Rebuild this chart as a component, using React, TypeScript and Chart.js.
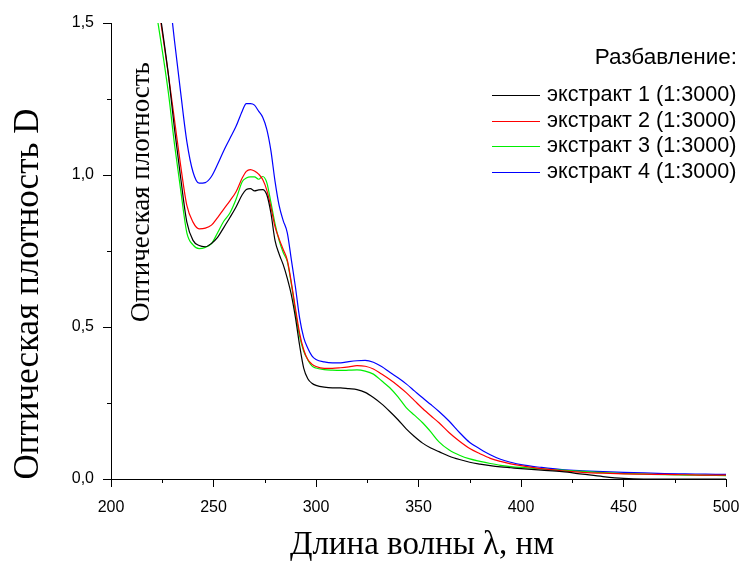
import React, { useEffect, useRef } from "react";
import { Chart, registerables } from "chart.js";

Chart.register(...registerables);

// Wavelength grid, nm
const wavelengths = [
  222, 225, 228, 231, 234, 237, 240, 243, 246, 249,
  252, 255, 258, 261, 264, 266, 268, 270, 272, 274,
  276, 278, 280, 282, 284, 286, 288, 290, 292, 294,
  296, 298, 300, 304, 308, 312, 316, 320, 324, 328,
  332, 336, 340, 344, 348, 352, 356, 360, 365, 370,
  375, 380, 385, 390, 395, 400, 410, 420, 430, 440,
  450, 460, 470, 480, 490, 500,
];

const extract1 = [
  1.62, 1.48, 1.33, 1.15, 0.99, 0.845, 0.785, 0.768, 0.764, 0.775,
  0.795, 0.827, 0.86, 0.895, 0.935, 0.952, 0.955, 0.948, 0.951, 0.952,
  0.935, 0.875, 0.785, 0.74, 0.705, 0.66, 0.605, 0.53, 0.44, 0.365,
  0.33, 0.315, 0.308, 0.302, 0.3, 0.3, 0.297, 0.294, 0.285, 0.268,
  0.247, 0.222, 0.195, 0.165, 0.14, 0.118, 0.102, 0.09, 0.075, 0.064,
  0.055, 0.049, 0.044, 0.04, 0.037, 0.034, 0.029, 0.024, 0.016, 0.008,
  0.002, 0, 0, 0, 0, 0,
];

const extract2 = [
  1.61, 1.47, 1.33, 1.18, 1.03, 0.9, 0.845, 0.823, 0.825, 0.835,
  0.86, 0.888, 0.915, 0.945, 0.99, 1.012, 1.018, 1.013, 1.003, 0.985,
  0.95, 0.895, 0.83, 0.79, 0.755, 0.72, 0.645, 0.56, 0.48, 0.425,
  0.393, 0.378, 0.37, 0.364, 0.364, 0.366, 0.369, 0.373, 0.371, 0.362,
  0.345, 0.327, 0.307, 0.284, 0.258, 0.232, 0.208, 0.185, 0.152, 0.124,
  0.1, 0.083, 0.068, 0.058, 0.05, 0.044, 0.034, 0.027, 0.022, 0.019,
  0.017, 0.016, 0.015, 0.014, 0.013, 0.013,
];

const extract3 = [
  1.54, 1.41, 1.27, 1.1, 0.95, 0.81, 0.77, 0.758, 0.762, 0.774,
  0.81, 0.848, 0.875, 0.92, 0.978, 0.99, 0.994, 0.994, 0.986, 0.995,
  0.975, 0.91, 0.84, 0.785, 0.745, 0.715, 0.64, 0.55, 0.47, 0.42,
  0.392, 0.372, 0.365, 0.36, 0.358, 0.357, 0.358, 0.359, 0.355, 0.345,
  0.323, 0.3, 0.27, 0.235, 0.21, 0.185, 0.155, 0.122, 0.095, 0.078,
  0.066, 0.058, 0.051, 0.045, 0.041, 0.038, 0.033, 0.029, 0.025, 0.021,
  0.018, 0.016, 0.014, 0.013, 0.012, 0.011,
];

const extract4 = [
  1.95, 1.79, 1.62, 1.44, 1.27, 1.11, 1.01, 0.973, 0.975, 0.995,
  1.035, 1.08, 1.12, 1.16, 1.21, 1.235, 1.235, 1.23, 1.21, 1.19,
  1.15, 1.08, 0.98, 0.9, 0.85, 0.81, 0.72, 0.63, 0.53, 0.465,
  0.43, 0.405, 0.393, 0.385, 0.382, 0.382, 0.386, 0.389, 0.39, 0.384,
  0.37, 0.351, 0.333, 0.313, 0.29, 0.267, 0.245, 0.222, 0.19, 0.153,
  0.12, 0.099, 0.08, 0.065, 0.055, 0.047, 0.038, 0.031, 0.027, 0.024,
  0.022, 0.02, 0.018, 0.017, 0.016, 0.015,
];

const seriesLabels = [
  "экстракт 1 (1:3000)",
  "экстракт 2 (1:3000)",
  "экстракт 3 (1:3000)",
  "экстракт 4 (1:3000)",
];
const seriesColors = ["#000000", "#ff0000", "#00ee00", "#0000ff"];
const legendTitle = "Разбавление:";
const xTitle = "Длина волны λ, нм";
const yTitle = "Оптическая плотность D";
const innerTitle = "Оптическая плотность";
const xMinorTicks = [225, 275, 325, 375, 425, 475];
const yMinorTicks = [0.25, 0.75, 1.25];

const decorPlugin = {
  id: "decor",
  afterDraw(chart: any) {
    const ctx = chart.ctx as CanvasRenderingContext2D;
    const { left, bottom } = chart.chartArea;
    const xs = chart.scales.x;
    const ys = chart.scales.y;
    ctx.save();
    ctx.strokeStyle = "#000";
    ctx.lineWidth = 1;
    for (const v of xMinorTicks) {
      const px = Math.round(xs.getPixelForValue(v)) + 0.5;
      ctx.beginPath();
      ctx.moveTo(px, bottom);
      ctx.lineTo(px, bottom + 4);
      ctx.stroke();
    }
    for (const v of yMinorTicks) {
      const py = Math.round(ys.getPixelForValue(v)) + 0.5;
      ctx.beginPath();
      ctx.moveTo(left, py);
      ctx.lineTo(left - 4, py);
      ctx.stroke();
    }

    ctx.fillStyle = "#000";
    ctx.textBaseline = "alphabetic";
    // x title
    ctx.font = '33px "Liberation Serif"';
    ctx.textAlign = "center";
    ctx.fillText(xTitle, 422, 554);
    // y title
    ctx.save();
    ctx.font = '35px "Liberation Serif"';
    ctx.translate(38, 294);
    ctx.rotate(-Math.PI / 2);
    ctx.fillText(yTitle, 0, 0);
    ctx.restore();
    // inner title
    ctx.save();
    ctx.font = '27px "Liberation Serif"';
    ctx.translate(149, 192);
    ctx.rotate(-Math.PI / 2);
    ctx.fillText(innerTitle, 0, 0);
    ctx.restore();

    // legend
    ctx.font = '22.5px "Liberation Sans"';
    ctx.textAlign = "right";
    ctx.textBaseline = "middle";
    ctx.fillText(legendTitle, 737, 58);
    ctx.font = '21.6px "Liberation Sans"';
    ctx.textAlign = "left";
    seriesLabels.forEach((label, i) => {
      const y = Math.round(95 + i * 25.7);
      ctx.strokeStyle = seriesColors[i];
      ctx.lineWidth = 1;
      ctx.beginPath();
      ctx.moveTo(492, y + 0.5);
      ctx.lineTo(540, y + 0.5);
      ctx.stroke();
      ctx.fillStyle = "#000";
      ctx.fillText(label, 547, y);
    });
    ctx.restore();
  },
};

export default function App() {
  const ref = useRef<HTMLCanvasElement>(null);
  useEffect(() => {
    if (!ref.current) return;
    const all = [extract1, extract2, extract3, extract4];
    const chart = new Chart(ref.current, {
      type: "line",
      data: {
        datasets: all.map((vals, i) => ({
          label: seriesLabels[i],
          data: wavelengths.map((w, j) => ({ x: w, y: vals[j] })),
          borderColor: seriesColors[i],
          borderWidth: 1.2,
          pointRadius: 0,
          fill: false,
          cubicInterpolationMode: "monotone" as const,
        })),
      },
      options: {
        responsive: false,
        animation: false,
        layout: { padding: { top: 23, right: 16, left: 0, bottom: 0 } },
        plugins: { legend: { display: false }, tooltip: { enabled: false } },
        scales: {
          x: {
            type: "linear",
            min: 200,
            max: 500,
            afterFit: (s: any) => {
              s.height = 82;
              s.paddingLeft = 0;
              s.paddingRight = 0;
            },
            ticks: {
              stepSize: 50,
              color: "#000",
              padding: 11,
              font: { family: '"Liberation Sans"', size: 16 },
              maxRotation: 0,
            },
            grid: { drawOnChartArea: false, color: "#000", tickLength: 8 },
            border: { display: true, color: "#000", width: 1 },
          },
          y: {
            min: 0,
            max: 1.5,
            afterFit: (s: any) => {
              s.width = 111;
              s.paddingTop = 0;
              s.paddingBottom = 0;
            },
            ticks: {
              stepSize: 0.5,
              color: "#000",
              padding: 9,
              font: { family: '"Liberation Sans"', size: 16 },
              callback: (v: any) => Number(v).toFixed(1).replace(".", ","),
            },
            grid: { drawOnChartArea: false, color: "#000", tickLength: 8 },
            border: { display: true, color: "#000", width: 1 },
          },
        },
      },
      plugins: [decorPlugin],
    });
    return () => chart.destroy();
  }, []);
  return (
    <div style={{ position: "fixed", left: 0, top: 0, width: 742, height: 561, background: "#fff" }}>
      <canvas ref={ref} width={742} height={561} />
    </div>
  );
}
